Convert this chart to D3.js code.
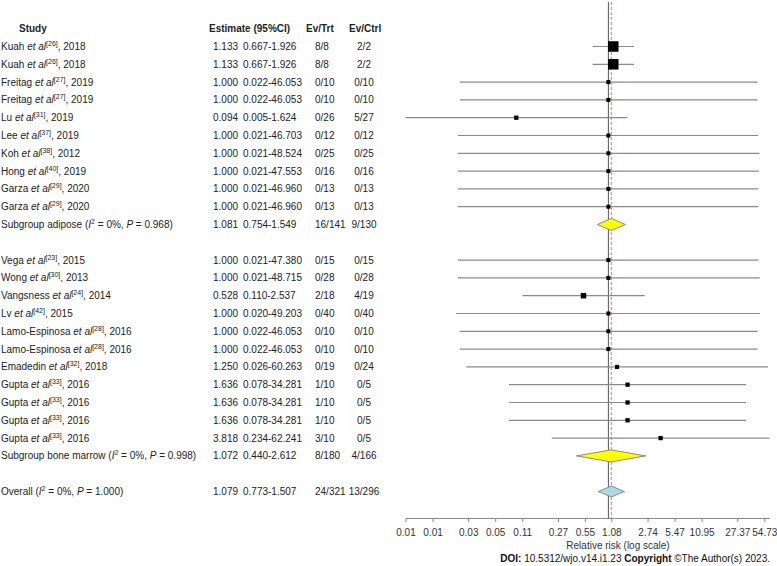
<!DOCTYPE html>
<html>
<head>
<meta charset="utf-8">
<script src="https://cdn.jsdelivr.net/npm/d3@7"></script>
<style>
  html, body { margin: 0; padding: 0; background: #fff; }
  svg { display: block; }
</style>
</head>
<body>
<div id="chart"></div>
<script>
// ---------------- DATA ----------------
const studyNames = ["Kuah","Kuah","Freitag","Freitag","Lu","Lee","Koh","Hong","Garza","Garza",
  "Vega","Wong","Vangsness","Lv","Lamo-Espinosa","Lamo-Espinosa","Emadedin","Gupta","Gupta","Gupta","Gupta"];
const studyRefs = ["26","26","27","27","31","37","38","40","29","29",
  "23","30","24","42","28","28","32","33","33","33","33"];
const studyYears = ["2018","2018","2019","2019","2019","2019","2012","2019","2020","2020",
  "2015","2013","2014","2015","2016","2016","2018","2016","2016","2016","2016"];
const studyGroups = ["adipose","adipose","adipose","adipose","adipose","adipose","adipose","adipose","adipose","adipose",
  "bone marrow","bone marrow","bone marrow","bone marrow","bone marrow","bone marrow","bone marrow","bone marrow","bone marrow","bone marrow","bone marrow"];
const estimates = [1.133,1.133,1.000,1.000,0.094,1.000,1.000,1.000,1.000,1.000,
  1.000,1.000,0.528,1.000,1.000,1.000,1.250,1.636,1.636,1.636,3.818];
const lowerCI = [0.667,0.667,0.022,0.022,0.005,0.021,0.021,0.021,0.021,0.021,
  0.021,0.021,0.110,0.020,0.022,0.022,0.026,0.078,0.078,0.078,0.234];
const upperCI = [1.926,1.926,46.053,46.053,1.624,46.703,48.524,47.553,46.960,46.960,
  47.380,48.715,2.537,49.203,46.053,46.053,60.263,34.281,34.281,34.281,62.241];
const evTrt = ["8/8","8/8","0/10","0/10","0/26","0/12","0/25","0/16","0/13","0/13",
  "0/15","0/28","2/18","0/40","0/10","0/10","0/19","1/10","1/10","1/10","3/10"];
const evCtrl = ["2/2","2/2","0/10","0/10","5/27","0/12","0/25","0/16","0/13","0/13",
  "0/15","0/28","4/19","0/40","0/10","0/10","0/24","0/5","0/5","0/5","0/5"];
// relative study weights
const studyWeights = [40,40,1,1,1.5,1,1,1,1,1,
  1,1,5,1,1,1,1.2,1.5,1.5,1.5,1.5];

const summaryLabels = ["Subgroup adipose","Subgroup bone marrow","Overall"];
const summaryGroups = ["adipose","bone marrow","overall"];
const summaryI2 = ["0%","0%","0%"];
const summaryP = ["0.968","0.998","1.000"];
const summaryEst = [1.081,1.072,1.079];
const summaryLower = [0.754,0.440,0.773];
const summaryUpper = [1.549,2.612,1.507];
const summaryTrt = ["16/141","8/180","24/321"];
const summaryCtrl = ["9/130","4/166","13/296"];

const tickValues = [0.00547,0.01095,0.0274,0.0547,0.1095,0.274,0.547,1.079,2.737,5.473,10.95,27.37,54.73];
const tickLabels = ["0.01","0.01","0.03","0.05","0.11","0.27","0.55","1.08","2.74","5.47","10.95","27.37","54.73"];

const headers = ["Study","Estimate (95%CI)","Ev/Trt","Ev/Ctrl"];
const axisTitle = "Relative risk (log scale)";

// ---------------- LAYOUT ----------------
const W = 777, H = 566;
const svg = d3.select("#chart").append("svg")
  .attr("width", W).attr("height", H)
  .style("font-family", "'Liberation Sans', Arial, sans-serif")
  .style("font-size", "10px");

// build row list
const rows = [];
let k = 0;
["adipose","bone marrow"].forEach((g, gi) => {
  studyNames.forEach((n, i) => {
    if (studyGroups[i] !== g) return;
    rows.push({type:"study", i, row:k++});
  });
  rows.push({type:"summary", i:gi, row:k++});
  k++; // blank row
});
rows.push({type:"overall", i:2, row:k++});

const y = d3.scaleLinear().domain([0, 25]).range([46.5, 491.5]);
const x = d3.scaleLog().domain([tickValues[0], d3.max(upperCI)]).range([405.5, 769.3]).clamp(true);
const size = d3.scaleSqrt().domain([1, d3.max(studyWeights)]).range([4, 10.5]);

const axisY = 518;
const colStudy = 1, colEst = 213, colCI = 243, colTrt = 315, colCtrl = 364;

// headers
const hy = y(-1);
const hdr = svg.append("g").attr("font-weight", "bold").attr("fill", "#222");
hdr.append("text").attr("x", 19).attr("y", hy).attr("dy", "0.35em").text(headers[0]);
hdr.append("text").attr("x", 209).attr("y", hy).attr("dy", "0.35em").text(headers[1]);
hdr.append("text").attr("x", 306).attr("y", hy).attr("dy", "0.35em").text(headers[2]);
hdr.append("text").attr("x", 349).attr("y", hy).attr("dy", "0.35em").text(headers[3]);

// reference lines
svg.append("line")
  .attr("x1", x(1)).attr("x2", x(1)).attr("y1", 2).attr("y2", axisY)
  .attr("stroke", "#555").attr("stroke-width", 1);
svg.append("line")
  .attr("x1", x(summaryEst[2])).attr("x2", x(summaryEst[2])).attr("y1", 2).attr("y2", axisY)
  .attr("stroke", "#f08a8a").attr("stroke-width", 1.2).attr("stroke-dasharray", "3,2");

const tg = svg.append("g").attr("fill", "#222");

function studyLabel(sel, i) {
  sel.append("tspan").text(studyNames[i] + " ");
  sel.append("tspan").attr("font-style", "italic").text("et al");
  sel.append("tspan").attr("font-size", "7px").attr("dy", "-4").text("[" + studyRefs[i] + "]");
  sel.append("tspan").attr("dy", "4").text(", " + studyYears[i]);
}
function summaryLabel(sel, i) {
  sel.append("tspan").text(summaryLabels[i] + " (");
  sel.append("tspan").attr("font-style", "italic").text("I");
  sel.append("tspan").attr("font-size", "7px").attr("dy", "-4").text("2");
  sel.append("tspan").attr("dy", "4").text(" = " + summaryI2[i] + ", ");
  sel.append("tspan").attr("font-style", "italic").text("P");
  sel.append("tspan").text(" = " + summaryP[i] + ")");
}

rows.forEach(r => {
  const yy = y(r.row);
  const isStudy = r.type === "study";
  const est = isStudy ? estimates[r.i] : summaryEst[r.i];
  const lo = isStudy ? lowerCI[r.i] : summaryLower[r.i];
  const hi = isStudy ? upperCI[r.i] : summaryUpper[r.i];
  const t = tg.append("text").attr("x", colStudy).attr("y", yy).attr("dy", "0.35em");
  if (isStudy) studyLabel(t, r.i); else summaryLabel(t, r.i);
  tg.append("text").attr("x", colEst).attr("y", yy).attr("dy", "0.35em").text(est.toFixed(3));
  tg.append("text").attr("x", colCI).attr("y", yy).attr("dy", "0.35em").text(lo.toFixed(3) + "-" + hi.toFixed(3));
  tg.append("text").attr("x", colTrt).attr("y", yy).attr("dy", "0.35em").text(isStudy ? evTrt[r.i] : summaryTrt[r.i]);
  tg.append("text").attr("x", colCtrl).attr("y", yy).attr("dy", "0.35em").attr("text-anchor", "middle").text(isStudy ? evCtrl[r.i] : summaryCtrl[r.i]);

  if (isStudy) {
    svg.append("line")
      .attr("x1", x(lo)).attr("x2", x(hi)).attr("y1", yy).attr("y2", yy)
      .attr("stroke", "#8a8a8a").attr("stroke-width", 1.2);
    const s = size(studyWeights[r.i]);
    svg.append("rect")
      .attr("x", x(est) - s / 2).attr("y", yy - s / 2)
      .attr("width", s).attr("height", s)
      .attr("fill", "#000");
  } else {
    const hh = r.type === "overall" ? 5.5 : 6;
    const pts = [[x(lo), yy], [x(est), yy - hh], [x(hi), yy], [x(est), yy + hh]];
    svg.append("path")
      .attr("d", d3.line()(pts) + "Z")
      .attr("fill", r.type === "overall" ? "#add8e6" : "#ffff00")
      .attr("stroke", "#8a8a8a").attr("stroke-width", 1);
  }
});

// axis
const axis = d3.axisBottom(x)
  .tickValues(tickValues)
  .tickFormat((d, i) => tickLabels[i])
  .tickSize(4).tickSizeOuter(0).tickPadding(7);
const ag = svg.append("g").attr("transform", `translate(0,${axisY})`).call(axis);
ag.select(".domain").attr("stroke", "#888");
ag.selectAll(".tick line").attr("stroke", "#888");
ag.selectAll(".tick text").attr("fill", "#333").style("font-size", "10px")
  .style("font-family", "'Liberation Sans', Arial, sans-serif");

svg.append("text").attr("x", 618).attr("y", 548.5).attr("text-anchor", "middle")
  .attr("fill", "#333").text(axisTitle);

// footer
const ft = svg.append("text").attr("x", 770).attr("y", 561.5).attr("text-anchor", "end").attr("fill", "#111");
ft.append("tspan").attr("font-weight", "bold").text("DOI:");
ft.append("tspan").text(" 10.5312/wjo.v14.i1.23  ");
ft.append("tspan").attr("font-weight", "bold").text("Copyright");
ft.append("tspan").text(" ©The Author(s) 2023.");
</script>
</body>
</html>
